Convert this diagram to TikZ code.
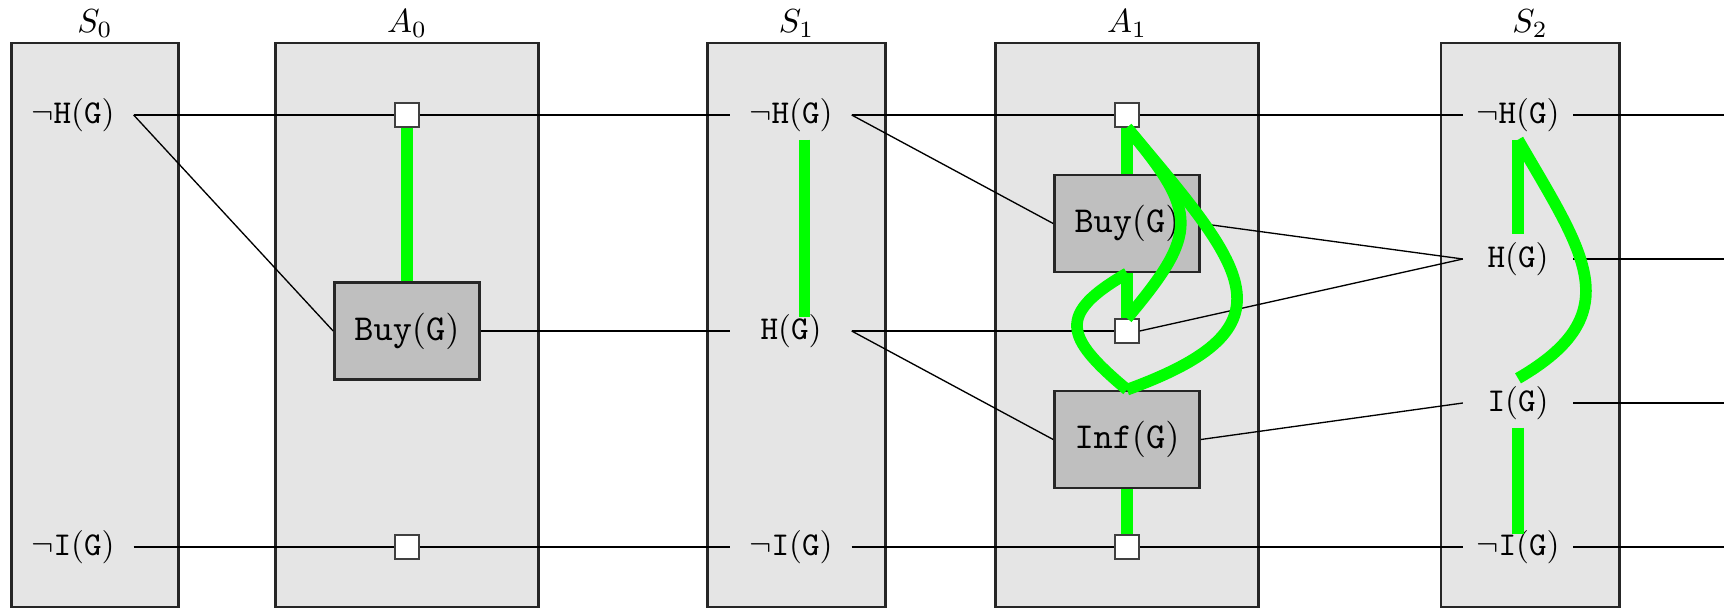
\documentclass[tikz,border=0pt]{standalone}
\usetikzlibrary{positioning}
\tikzstyle{layer}=[
	rectangle,
	thick,
	draw=black!85,
	fill=black!10,
	minimum height=169.2pt,
	inner sep=0pt
]
\tikzstyle{stage}=[
	inner sep=1pt
]
\tikzstyle{literal}=[
	inner sep=2pt,
	minimum width=36pt,
	minimum height=14.4pt,
	font=\fontsize{10.4}{12}\selectfont
]
\tikzstyle{action}=[
	rectangle,
	thick,
	draw=black!85,
	fill=black!25,
	minimum width=43.5pt,
	minimum height=29.1pt,
	font=\fontsize{10.8}{12}\selectfont
]
\tikzstyle{noop}=[
	rectangle,
	draw=black!75,
	fill=white,
	minimum size=7.2pt,
	inner sep=0pt
]
\tikzstyle{link}=[
	thin
]
\tikzstyle{mutex}=[
	line width=3.5pt,
	green
]

\begin{document}
\begin{tikzpicture}[x=0.3pt,y=-0.3pt]
\useasboundingbox (0,0) rectangle (1724,608);
% layers
\node [layer, minimum width=50pt] (S0) at (95,325) {};
\node [layer, minimum width=79pt] (A0) at (407,325) {};
\node [layer, minimum width=53.5pt] (S1) at (796.5,325) {};
\node [layer, minimum width=79pt] (A1) at (1127,325) {};
\node [layer, minimum width=53.5pt] (S2) at (1530,325) {};
\node [stage] (S0label) [above=0pt of S0] {$S_0$};
\node [stage] (A0label) [above=0pt of A0] {$A_0$};
\node [stage] (S1label) [above=0pt of S1] {$S_1$};
\node [stage] (A1label) [above=0pt of A1] {$A_1$};
\node [stage] (S2label) [above=0pt of S2] {$S_2$};
% literals
\node [literal] (s0nh) at (73,115) {$\neg\mathtt{H}(\mathtt{G})$};
\node [literal] (s0ni) at (73,547) {$\neg\mathtt{I}(\mathtt{G})$};
\node [literal] (s1nh) at (791,115) {$\neg\mathtt{H}(\mathtt{G})$};
\node [literal] (s1h) at (791,331) {$\mathtt{H}(\mathtt{G})$};
\node [literal] (s1ni) at (791,547) {$\neg\mathtt{I}(\mathtt{G})$};
\node [literal, minimum width=32.7pt] (s2nh) at (1518,115) {$\neg\mathtt{H}(\mathtt{G})$};
\node [literal, minimum width=32.7pt] (s2h) at (1518,259) {$\mathtt{H}(\mathtt{G})$};
\node [literal, minimum width=32.7pt] (s2i) at (1518,403) {$\mathtt{I}(\mathtt{G})$};
\node [literal, minimum width=32.7pt] (s2ni) at (1518,547) {$\neg\mathtt{I}(\mathtt{G})$};
\coordinate (outnh) at (1724,115);
\coordinate (outh) at (1724,259);
\coordinate (outi) at (1724,403);
\coordinate (outni) at (1724,547);
% actions and no-ops
\node [action] (a0buy) at (407,331) {$\mathtt{Buy}(\mathtt{G})$};
\node [noop] (a0nh) at (407,115) {};
\node [noop] (a0ni) at (407,547) {};
\node [action] (a1buy) at (1127,223.5) {$\mathtt{Buy}(\mathtt{G})$};
\node [action] (a1inf) at (1127,439.5) {$\mathtt{Inf}(\mathtt{G})$};
\node [noop] (a1nh) at (1127,115) {};
\node [noop] (a1h) at (1127,331) {};
\node [noop] (a1ni) at (1127,547) {};
% preconditions and effects
\draw [link] (s0nh) -- (a0nh) -- (s1nh);
\draw [link] (s0nh.east) -- (a0buy.west);
\draw [link] (a0buy) -- (s1h);
\draw [link] (s0ni) -- (a0ni) -- (s1ni);
\draw [link] (s1nh) -- (a1nh) -- (s2nh) -- (outnh);
\draw [link] (s1nh.east) -- (a1buy.west);
\draw [link] (s1h) -- (a1h);
\draw [link] (a1h.east) -- (s2h.west);
\draw [link] (s1h.east) -- (a1inf.west);
\draw [link] (a1buy.east) -- (s2h.west);
\draw [link] (a1inf.east) -- (s2i.west);
\draw [link] (s1ni) -- (a1ni) -- (s2ni) -- (outni);
\draw [link] (s2h) -- (outh);
\draw [link] (s2i) -- (outi);
% mutexes
\draw [mutex] (a0nh) -- (a0buy);
\draw [mutex, shorten >=-3.3pt] ([xshift=4pt]s1nh.south) -- ([xshift=4pt]s1h.north);
\draw [mutex] (a1nh) -- (a1buy);
\draw [mutex] (a1buy) -- (a1h);
\draw [mutex] (a1inf) -- (a1ni);
\draw [mutex] (a1nh.south) to [out=-50, in=50, looseness=1.5] (a1h.north);
\draw [mutex] (a1nh.south) to [out=-50, in=20, looseness=1.8] (a1inf.north);
\draw [mutex] (a1buy.south) to [out=-150, in=140, looseness=1.8] (a1inf.north);
\draw [mutex] (s2nh) -- (s2h);
\draw [mutex] (s2nh.south) to [out=-60, in=30, looseness=1.4] (s2i.north);
\draw [mutex, shorten >=-3.6pt] (s2i) -- (s2ni);
\end{tikzpicture}
\end{document}
